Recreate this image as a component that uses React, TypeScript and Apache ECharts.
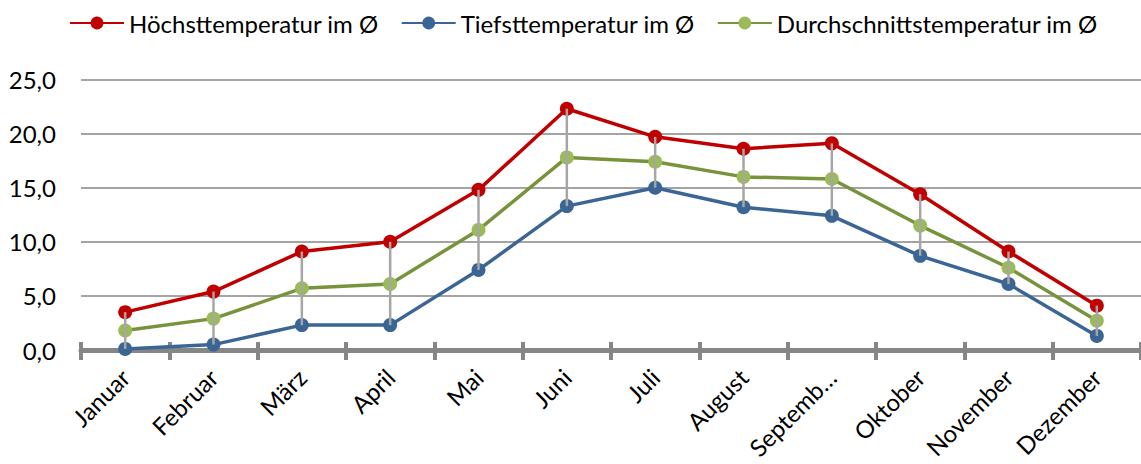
import React, { useEffect, useRef } from "react";
import * as echarts from "echarts";

const months = ["Januar", "Februar", "März", "April", "Mai", "Juni", "Juli", "August", "Septemb…", "Oktober", "November", "Dezember"];
const maxTemp = [3.5, 5.4, 9.1, 10.0, 14.8, 22.3, 19.7, 18.6, 19.1, 14.4, 9.1, 4.1];
const minTemp = [0.1, 0.5, 2.3, 2.3, 7.4, 13.3, 15.0, 13.2, 12.4, 8.7, 6.1, 1.3];
const avgTemp = [1.8, 2.9, 5.7, 6.1, 11.1, 17.8, 17.4, 16.0, 15.8, 11.5, 7.6, 2.7];
const seriesNames = ["Höchsttemperatur im Ø", "Tiefsttemperatur im Ø", "Durchschnittstemperatur im Ø"];

const FONT = "Lato, 'Open Sans', sans-serif";
const GRAY = "#868686";
const FS = 24;

export default function App() {
  const ref = useRef<HTMLDivElement>(null);
  useEffect(() => {
    if (!ref.current) return;
    const chart = echarts.init(ref.current, undefined, { renderer: "svg" });
    const lineSeries = (name: string, data: number[], lineColor: string, markerColor: string) => ({
      name,
      type: "line",
      data,
      symbol: "circle",
      symbolSize: 14,
      lineStyle: { color: lineColor, width: 3.5 },
      itemStyle: { color: markerColor, borderWidth: 0 },
      z: 2,
    });
    chart.setOption({
      animation: false,
      textStyle: { fontFamily: FONT },
      legend: {
        data: seriesNames,
        left: 64,
        top: 6,
        itemWidth: 54,
        itemHeight: 16,
        itemGap: 22,
        textStyle: { fontSize: FS, color: "#000", fontFamily: FONT },
      },
      grid: { left: 81, right: -3, top: 79.5, bottom: 114, containLabel: false },
      xAxis: [
        {
          type: "category",
          data: months,
          boundaryGap: true,
          axisLine: { show: true, lineStyle: { color: GRAY, width: 5 } },
          axisTick: { show: true, inside: false, length: 10, lineStyle: { color: GRAY, width: 4 } },
          axisLabel: { rotate: 45, fontSize: FS, color: "#000", margin: 23, fontFamily: FONT, interval: 0 },
          splitLine: { show: false },
        },
        {
          type: "category",
          data: months,
          position: "bottom",
          boundaryGap: true,
          axisLine: { show: false },
          axisTick: { show: true, inside: true, length: 8, lineStyle: { color: GRAY, width: 4 } },
          axisLabel: { show: false },
          splitLine: { show: false },
        },
      ],
      yAxis: {
        type: "value",
        min: 0,
        max: 25,
        interval: 5,
        axisLine: { show: false },
        axisTick: { show: false },
        axisLabel: {
          fontSize: FS,
          color: "#000",
          margin: 25,
          fontFamily: FONT,
          formatter: (v: number) => v.toFixed(1).replace(".", ","),
        },
        splitLine: { lineStyle: { color: GRAY, width: 1.5 } },
      },
      series: [
        lineSeries(seriesNames[0], maxTemp, "#C00000", "#C00000"),
        lineSeries(seriesNames[1], minTemp, "#3A6595", "#3A6595"),
        lineSeries(seriesNames[2], avgTemp, "#77933C", "#9BBB59"),
        {
          name: "hiLo",
          type: "custom",
          data: months.map((_, i) => [i, maxTemp[i], minTemp[i]]),
          encode: { x: 0, y: [1, 2] },
          z: 5,
          silent: true,
          renderItem: (_params: any, api: any) => {
            const x = api.value(0);
            const p1 = api.coord([x, api.value(1)]);
            const p2 = api.coord([x, api.value(2)]);
            return {
              type: "line",
              shape: { x1: p1[0], y1: p1[1], x2: p2[0], y2: p2[1] },
              style: { stroke: "#A6A6A6", lineWidth: 2.5 },
            };
          },
        },
      ],
    });
    return () => chart.dispose();
  }, []);
  return <div ref={ref} style={{ position: "absolute", left: 0, top: 0, width: 1141, height: 464 }} />;
}
